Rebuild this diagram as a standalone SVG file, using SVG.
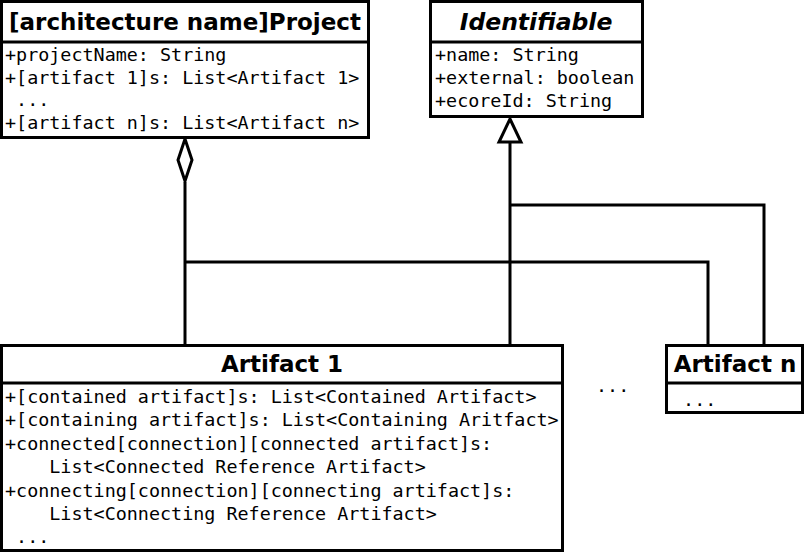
<svg xmlns="http://www.w3.org/2000/svg" width="806" height="553" viewBox="0 0 806 553">
<style>
.box{fill:#fff;stroke:#000;stroke-width:3}
.sep{stroke:#000;stroke-width:3}
.title{font-family:"DejaVu Sans",sans-serif;font-weight:bold;font-size:23px;text-anchor:middle;fill:#000}
.attr{font-family:"DejaVu Sans Mono",monospace;font-size:18.4px;fill:#000;white-space:pre}
.conn{fill:none;stroke:#000;stroke-width:3}
</style>
<rect width="806" height="553" fill="#fff"/>
<g id="connectors">
<path class="conn" d="M185,182 V345"/>
<path class="conn" d="M185,262 H708 V345"/>
<polygon class="conn" points="185,139 192,160 185,181 178,160" style="fill:#fff"/>
<path class="conn" d="M510,142 V345"/>
<path class="conn" d="M510,205 H764 V345"/>
<polygon class="conn" points="510,119 521,142 499,142" style="fill:#fff"/>
</g>
<g id="project">
<rect class="box" x="1.5" y="1.5" width="367" height="136"/>
<line class="sep" x1="1.5" y1="42" x2="368.5" y2="42"/>
<text class="title" x="185" y="30">[architecture name]Project</text>
<text class="attr" x="5" y="61">+projectName: String</text>
<text class="attr" x="5" y="84">+[artifact 1]s: List&lt;Artifact 1&gt;</text>
<text class="attr" x="5" y="106"> ...</text>
<text class="attr" x="5" y="129">+[artifact n]s: List&lt;Artifact n&gt;</text>
</g>
<g id="identifiable">
<rect class="box" x="430.5" y="1.5" width="212" height="115"/>
<line class="sep" x1="430.5" y1="42" x2="642.5" y2="42"/>
<text class="title" x="536" y="30" font-style="italic" style="font-size:23.5px">Identifiable</text>
<text class="attr" x="435" y="61">+name: String</text>
<text class="attr" x="435" y="84">+external: boolean</text>
<text class="attr" x="435" y="107">+ecoreId: String</text>
</g>
<g id="artifact1">
<rect class="box" x="1.5" y="345.5" width="561" height="205"/>
<line class="sep" x1="1.5" y1="383" x2="562.5" y2="383"/>
<text class="title" x="282" y="372">Artifact 1</text>
<text class="attr" x="5" y="403">+[contained artifact]s: List&lt;Contained Artifact&gt;</text>
<text class="attr" x="5" y="426">+[containing artifact]s: List&lt;Containing Aritfact&gt;</text>
<text class="attr" x="5" y="450">+connected[connection][connected artifact]s:</text>
<text class="attr" x="5" y="473">    List&lt;Connected Reference Artifact&gt;</text>
<text class="attr" x="5" y="497">+connecting[connection][connecting artifact]s:</text>
<text class="attr" x="5" y="520">    List&lt;Connecting Reference Artifact&gt;</text>
<text class="attr" x="5" y="543"> ...</text>
</g>
<g id="ellipsis">
<text class="attr" x="596" y="392">...</text>
</g>
<g id="artifactn">
<rect class="box" x="666.5" y="345.5" width="136" height="67"/>
<line class="sep" x1="666.5" y1="383" x2="802.5" y2="383"/>
<text class="title" x="735" y="372">Artifact n</text>
<text class="attr" x="672" y="406"> ...</text>
</g>
</svg>
